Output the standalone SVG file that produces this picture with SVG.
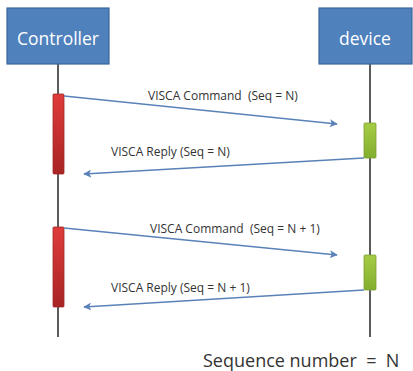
<svg xmlns="http://www.w3.org/2000/svg" width="413" height="371" viewBox="0 0 413 371">
<style>
.box{fill:#4F81BD;stroke:#3A679C;stroke-width:1.2}
.ttl{font-family:"Open Sans","Liberation Sans",sans-serif;font-size:17.5px;fill:#ffffff;text-anchor:middle}
.life{stroke:#333333;stroke-width:1.6}
.msg{stroke:#5A82B8;stroke-width:1.6;fill:none;marker-end:url(#ah)}
.lbl{font-family:"Open Sans","Liberation Sans",sans-serif;font-size:12px;fill:#333333;white-space:pre}
.seq{font-family:"Open Sans","Liberation Sans",sans-serif;font-size:18px;fill:#333333;white-space:pre}
.red{fill:url(#rg);stroke:#9E2A2A;stroke-width:0.8}
.grn{fill:url(#gg);stroke:#7FA032;stroke-width:0.8}
</style>
<defs>
<marker id="ah" viewBox="0 0 10 10" refX="9" refY="5" markerWidth="5" markerHeight="5" orient="auto" markerUnits="strokeWidth">
<path d="M0,0 L10,5 L0,10 L2.5,5 z" fill="#5A82B8"/>
</marker>
<linearGradient id="rg" x1="0" y1="0" x2="0" y2="1">
<stop offset="0" stop-color="#E03B3B"/>
<stop offset="1" stop-color="#A82424"/>
</linearGradient>
<linearGradient id="gg" x1="0" y1="0" x2="0" y2="1">
<stop offset="0" stop-color="#A6CC45"/>
<stop offset="1" stop-color="#82AE2E"/>
</linearGradient>
</defs>
<rect width="413" height="371" fill="#ffffff"/>
<g id="controller">
<line class="life" x1="58" y1="64" x2="58" y2="337"/>
<rect class="box" x="7" y="8" width="102" height="56"/>
<text class="ttl" x="58" y="45">Controller</text>
</g>
<g id="device">
<line class="life" x1="370" y1="64" x2="370" y2="337"/>
<rect class="box" x="319" y="8" width="93" height="56"/>
<text class="ttl" x="365" y="45">device</text>
</g>
<g id="activations">
<rect class="red" x="53" y="94" width="11" height="80" rx="1"/>
<rect class="grn" x="364" y="123" width="12" height="35" rx="1"/>
<rect class="red" x="53" y="227" width="11" height="80" rx="1"/>
<rect class="grn" x="364" y="255" width="12" height="35" rx="1"/>
</g>
<g id="connectors">
<line class="msg" x1="64" y1="96" x2="337" y2="124"/>
<line class="msg" x1="364" y1="158" x2="84" y2="174"/>
<line class="msg" x1="64" y1="228" x2="337" y2="255"/>
<line class="msg" x1="364" y1="290" x2="84" y2="307"/>
</g>
<g id="labels">
<text class="lbl" x="148" y="100" xml:space="preserve">VISCA Command  (Seq = N)</text>
<text class="lbl" x="111" y="156">VISCA Reply (Seq = N)</text>
<text class="lbl" x="150" y="233" xml:space="preserve">VISCA Command  (Seq = N + 1)</text>
<text class="lbl" x="111" y="292">VISCA Reply (Seq = N + 1)</text>
</g>
<text class="seq" x="203" y="367" xml:space="preserve">Sequence number  =  N</text>
</svg>
